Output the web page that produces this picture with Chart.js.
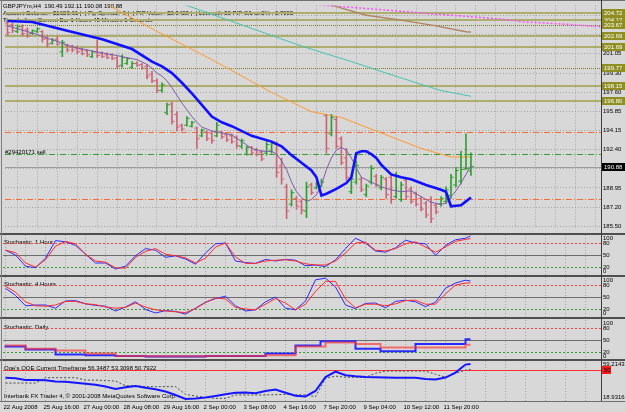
<!DOCTYPE html>
<html>
<head>
<meta charset="utf-8">
<script src="https://cdn.jsdelivr.net/npm/chart.js@4.4.1/dist/chart.umd.min.js"></script>
<style>
  html, body { margin: 0; padding: 0; background: #d8d8d8; }
  #wrap { position: relative; width: 625px; height: 412px; overflow: hidden; background: #d8d8d8; }
  #wrap canvas { position: absolute; left: 0; }
  .sep { position: absolute; left: 0; width: 625px; background: #505050; }
  .vline { position: absolute; width: 1px; background: #3c3c3c; }
</style>
</head>
<body>
<div id="wrap">
  <canvas id="cMain" width="625" height="234" style="top:0"></canvas>
  <canvas id="cSto1" width="625" height="40" style="top:235px"></canvas>
  <canvas id="cSto4" width="625" height="40" style="top:277px"></canvas>
  <canvas id="cStoD" width="625" height="40" style="top:320px"></canvas>
  <canvas id="cQqe" width="625" height="51" style="top:361px"></canvas>
  <div class="sep" style="top:0;height:1px;background:#707070"></div>
  <div class="sep" style="top:233px;height:2px"></div>
  <div class="sep" style="top:275px;height:2px"></div>
  <div class="sep" style="top:317px;height:2px"></div>
  <div class="sep" style="top:359px;height:2px"></div>
  <div class="sep" style="top:401px;height:1px;background:#707070"></div>
  <div class="vline" style="left:601px;top:0;height:401px"></div>
  <div class="vline" style="left:1px;top:0;height:401px;background:#808080"></div>
</div>
<script>
// ---- data (H4 bars, index 0 = first visible bar) ----
const timeLabels = ['22 Aug 2008', '25 Aug 16:00', '27 Aug 00:00', '28 Aug 08:00', '29 Aug 16:00', '2 Sep 00:00',
  '3 Sep 08:00', '4 Sep 16:00', '7 Sep 20:00', '9 Sep 04:00', '10 Sep 12:00', '11 Sep 20:00'];
const timeIdx = [0, 8, 16, 24, 32, 40, 48, 56, 64, 72, 80, 88];

const opens = [203.83,203.66,203.05,203.49,203.22,202.88,203.05,203.05,202.44,202.01,
  202.36,201.22,201.83,201.66,201.57,201.40,201.31,200.79,201.22,201.05,
  200.96,200.96,200.70,200.01,200.18,199.83,200.18,200.09,199.92,199.22,
  198.61,197.74,195.74,196.52,195.57,194.61,194.61,194.52,194.35,193.65,
  194.00,193.91,193.65,194.00,193.74,193.65,193.48,192.70,192.00,192.61,
  192.35,192.18,192.09,192.26,192.87,190.96,189.04,187.48,188.00,187.74,
  186.87,189.22,188.96,189.13,195.48,193.83,195.13,193.39,191.65,188.61,
  189.48,189.74,188.35,189.48,190.00,188.96,189.74,189.91,188.17,187.91,
  189.65,188.87,188.43,188.00,187.56,187.91,187.39,187.48,187.74,188.26,
  189.22,189.56,190.65,190.49];
const highs = [204.01,203.83,203.66,203.66,203.40,203.22,203.40,203.14,202.70,202.44,
  202.62,202.27,201.92,201.83,201.75,201.57,201.40,201.31,202.27,201.22,
  201.14,201.05,200.79,200.96,200.70,200.35,200.35,200.18,200.09,199.48,
  198.79,198.44,196.61,196.70,195.83,194.70,195.39,194.96,194.44,194.26,
  194.09,194.09,194.87,194.09,193.83,193.83,193.65,193.39,192.70,192.70,
  192.52,192.35,193.13,193.13,193.13,191.65,189.30,188.78,188.17,187.91,
  189.48,189.39,189.48,189.74,195.57,195.57,195.39,193.57,192.52,190.09,
  191.39,189.91,189.30,190.96,190.17,190.09,189.91,190.17,190.35,189.48,
  189.91,189.04,188.61,188.17,187.74,188.17,187.56,188.17,189.04,190.17,
  190.78,192.26,193.83,192.11];
const lows = [202.70,202.96,202.96,202.70,202.53,202.79,202.96,202.09,201.66,201.92,
  201.83,200.79,201.22,201.22,201.05,200.96,200.79,200.70,200.70,200.70,
  200.61,200.53,199.74,199.83,200.09,199.74,199.92,199.66,198.79,198.44,
  197.57,197.57,195.57,194.70,194.09,194.09,194.52,194.44,192.52,193.57,
  193.22,192.96,193.57,193.39,193.13,192.96,192.52,192.52,191.91,191.91,
  191.83,191.39,191.91,192.09,189.91,189.30,186.17,187.30,187.04,186.61,
  186.26,188.35,188.87,189.04,192.09,193.65,192.52,191.04,189.65,188.43,
  189.30,188.61,188.17,189.30,189.04,188.78,188.00,187.56,188.00,187.74,
  187.91,187.56,187.30,186.87,186.26,185.82,186.61,187.30,187.56,188.00,
  189.04,189.30,190.61,190.08];
const closes = [202.96,203.14,203.49,202.88,202.70,203.14,203.31,202.36,201.92,202.27,
  201.92,202.09,201.40,201.40,201.22,201.05,200.96,201.22,200.89,200.79,
  200.70,200.61,199.92,200.70,200.61,200.18,200.01,199.74,199.05,198.61,
  197.74,198.26,196.44,194.96,194.44,194.26,195.22,194.87,193.39,194.17,
  193.39,193.22,194.61,193.57,193.30,193.13,192.78,193.22,192.61,192.09,
  192.00,191.57,192.87,192.96,190.35,189.74,186.87,188.52,187.30,186.95,
  189.04,188.52,189.30,189.48,192.52,195.31,192.70,191.22,189.91,189.74,
  190.96,188.78,189.13,190.70,189.22,189.91,188.35,187.91,190.09,189.22,
  188.17,187.74,187.48,187.04,186.52,186.17,186.78,188.00,188.78,189.91,
  190.52,190.61,190.70,190.88];

const blueMaIdx = [0,5,12,19,25,29,31,33,35,37,39,41,43,45,49,53,55,57,59,61,62,63,64,66,68,69,70,71,72,73,74,75,77,79,81,84,87,88,89,91,92,93];
const blueMa = [204.01,203.92,203.14,202.36,201.48,200.35,199.92,199.31,198.44,197.48,196.44,195.39,194.87,194.52,193.65,193.13,192.70,191.91,191.22,190.52,189.91,188.26,188.43,188.87,189.39,189.91,192.09,192.26,192.26,192.00,191.65,191.04,190.17,189.91,189.74,189.22,188.78,188.61,187.30,187.39,187.74,188.09];

const purpleMaIdx = [0,2,4,6,8,10,12,14,16,18,20,22,24,26,28,29,30,31,32,33,34,35,36,37,38,39,41,43,45,47,49,51,53,54,55,56,57,58,59,60,61,62,63,64,65,66,67,68,69,70,71,73,75,77,79,81,83,85,87,88,89,90,91,92,93];
const purpleMa = [203.57,203.31,203.05,202.79,202.44,202.18,201.83,201.57,201.40,201.22,201.05,200.89,200.70,200.53,200.09,199.74,199.31,199.05,198.61,198.00,197.31,196.61,196.00,195.39,194.87,194.44,194.09,193.91,193.74,193.13,192.52,192.26,192.26,192.00,191.39,190.61,189.48,188.61,188.09,187.74,187.91,188.35,189.22,190.61,191.65,192.35,192.61,192.35,191.65,190.78,189.91,189.48,189.04,188.78,188.61,188.69,188.17,187.65,187.48,187.56,188.17,188.69,189.39,190.17,190.96];

const orangeIdx = [18,29,41,53,61,64,67,75,83,89,93];
const orangeMa = [206.01,203.31,200.53,197.57,195.83,195.57,195.31,193.91,192.52,191.74,191.74];
const tealIdx = [33,35,47,59,69,76,82,87,93];
const tealMa = [206.01,205.57,203.66,201.75,200.35,199.31,198.44,197.74,197.22];
const brownIdx = [63,66,72,79,86,92,93];
const brownMa = [205.75,205.31,204.53,204.09,203.57,203.05,203.01];
const magentaIdx = [61,64,72,79,86,92,99,104,111,119];
const magentaMa = [205.60,205.40,205.14,204.88,204.62,204.44,204.18,203.92,203.75,203.49];

const priceTicks = [204.50, 202.75, 201.05, 199.30, 197.60, 195.85, 194.15, 192.40, 190.70, 188.95, 187.20, 185.50];
const levelPrices = [204.72, 204.12, 203.67, 202.69, 201.69, 199.77, 198.15, 196.80];
const orderPrices = { stop: 193.97, entry: 191.99, target: 187.99 };
const bidPrice = 190.88;

const stoIdx = [0,2,4,6,8,10,12,14,16,18,20,22,24,26,28,30,32,34,36,38,40,42,44,46,48,50,52,54,56,58,60,62,64,66,68,70,72,74,76,78,80,82,84,86,88,90,92,93];
const sto1Main = [62,50,22,18,42,86,83,74,52,30,30,15,22,48,66,62,44,48,40,27,55,78,80,35,31,29,39,35,39,37,23,25,21,38,66,92,80,60,57,68,87,80,78,49,74,88,92,98];
const sto1Signal = [62,56,30,20,38,72,84,78,52,35,32,18,17,44,59,66,52,48,43,30,42,70,80,45,29,29,35,37,38,35,28,25,25,35,55,80,82,62,60,66,78,83,70,57,70,84,89,91];
const sto4Main = [72,54,28,30,30,22,40,41,33,29,27,15,25,38,19,10,16,14,7,22,37,46,52,28,15,18,38,50,22,18,40,93,97,75,30,21,34,35,23,39,42,38,26,37,72,85,92,90];
const sto4Signal = [77,62,38,28,27,30,39,39,33,31,25,22,24,35,25,18,15,13,11,21,36,48,45,24,20,18,32,46,35,18,32,64,89,89,45,23,32,32,28,33,41,42,32,32,58,80,85,85];
const dailyIdx = [0,4,10,16,22,28,40,52,58,63,64,70,75,82,87,92,93];
const dailyMain = [36,34,26,14,12,10,9,10,16,36,47,47,28,22,40,40,52];
const dailySignal = [36,36,28,24,16,10,9.5,10,12,34,34,44,40,31,31,31,38];
const stoLevels = [80, 50, 20];

const qqeMain = [42.4,41.8,40,40,39.8,38.5,38.3,37.2,36.3,35.4,33.6,31,32.8,34,32.2,30.7,28.5,25,20.9,21.4,22.4,24,25.8,27.2,27.4,26.8,29,30.5,27.3,24.2,23.5,29,43,48.5,44.8,43.8,43.2,42.9,42.6,42.4,42.4,42.4,41.2,40.6,42.5,47.5,55.6,56.3];
const qqeTrail = [37,37,37,37,42.4,42.4,42.4,42.4,40,40,39.5,39,34.4,34.4,33.4,33.4,33.4,33.4,25.6,24,22.5,21.6,21.6,25,25,25,25,25.3,25.6,25.3,25,23.3,41.8,44,42.8,42.8,42.8,46.8,49.1,49.1,49.1,49.1,49.1,45.8,43,46.8,50,50.8];
const qqeRange = [18.9316, 59.2143];
const qqeLevel = 50;

// ---- drawing ----
const FONT = '"Liberation Sans", Arial, sans-serif';
const UP = '#2f9f2f', DOWN = '#cc6478';
const gridIdx = [];
for (let i = 0; i <= 116; i += 4) gridIdx.push(i);

const pts = (xs, ys) => xs.map((x, k) => ({ x: x, y: ys[k] }));

function xScale(showLabels) {
  return {
    type: 'linear', min: -0.5, max: 119.1, offset: false,
    afterBuildTicks: s => { s.ticks = gridIdx.map(v => ({ value: v })); },
    afterFit: s => { s.height = showLabels ? 11 : 0; },
    grid: { color: '#a4a4a4', lineWidth: 1, drawTicks: false },
    border: { display: false, dash: [1, 2] },
    ticks: {
      display: showLabels, autoSkip: false, maxRotation: 0, minRotation: 0,
      align: 'start', padding: 3, labelOffset: -2, color: '#000', font: { family: FONT, size: 6 },
      callback: v => { const k = timeIdx.indexOf(v); return k < 0 ? '' : timeLabels[k]; }
    }
  };
}

function paneY(min, max) {
  return {
    position: 'right', min: min, max: max,
    afterFit: s => { s.width = 24; },
    grid: { display: false }, border: { display: false }, ticks: { display: false }
  };
}

function overlay(cfg) {
  return {
    id: 'mt',
    beforeDatasetsDraw(chart) {
      const { ctx, chartArea: a } = chart;
      const y = chart.scales.y;
      ctx.save();
      ctx.font = '6px ' + FONT;
      ctx.textBaseline = 'middle';
      (cfg.texts || []).forEach(t => { ctx.fillStyle = '#000'; ctx.fillText(t.text, t.x, t.y); });
      (cfg.lines || []).forEach(l => {
        const w = l.width || 1;
        let py = Math.round(y.getPixelForValue(l.value));
        if (w % 2 === 1) py += 0.5;
        ctx.lineWidth = w; ctx.strokeStyle = l.color; ctx.setLineDash(l.dash || []);
        ctx.beginPath(); ctx.moveTo(a.left, py); ctx.lineTo(a.right, py); ctx.stroke();
      });
      ctx.restore();
    },
    afterDraw(chart) {
      const { ctx, chartArea: a } = chart;
      const y = chart.scales.y;
      ctx.save();
      ctx.font = '6px ' + FONT;
      ctx.textBaseline = 'middle';
      (cfg.side || []).forEach(s => {
        const py = Math.min(Math.max(y.getPixelForValue(s.value), a.top + 3.5), a.bottom - 3.5);
        ctx.fillStyle = '#000'; ctx.fillText(s.text, a.right + 2, py);
      });
      (cfg.boxes || []).forEach(b => {
        const py = Math.round(y.getPixelForValue(b.value));
        ctx.fillStyle = b.bg; ctx.fillRect(a.right + 1, py - 4, b.w || 23, 8);
        ctx.fillStyle = b.fg; ctx.fillText(b.text, a.right + 3, py + 0.5);
      });
      ctx.restore();
    }
  };
}

function baseOptions(padding, yScale, showX) {
  return {
    responsive: false, animation: false, events: [],
    layout: { padding: padding },
    plugins: { legend: { display: false }, tooltip: { enabled: false } },
    scales: { x: xScale(showX), y: yScale }
  };
}

const lineDs = (data, color, width, order, extra) => Object.assign({
  type: 'line', data: data, borderColor: color, borderWidth: width, pointRadius: 0,
  tension: 0, fill: false, order: order
}, extra || {});

// main price pane
const barColors = closes.map((c, i) => c >= opens[i] ? UP : DOWN);
const mainOpts = baseOptions({ left: 3, top: 2, bottom: 1, right: 0 }, {
  position: 'right', min: 185.30, max: 205.40,
  afterBuildTicks: s => { s.ticks = priceTicks.map(v => ({ value: v })); },
  afterFit: s => { s.width = 24; },
  grid: { color: '#a4a4a4', drawTicks: false },
  border: { display: false, dash: [1, 2] },
  ticks: { autoSkip: false, padding: 2, color: '#000', font: { family: FONT, size: 6 }, callback: v => v.toFixed(2) }
}, false);

const levelLines = levelPrices.map(v => {
  const dotted = v === 203.67 || v === 199.77;
  return dotted ? { value: v, color: '#7d7d22', width: 1, dash: [1, 1] } : { value: v, color: '#adad6c', width: 2 };
});

new Chart(document.getElementById('cMain'), {
  type: 'line',
  data: {
    datasets: [
      lineDs(pts(blueMaIdx, blueMa), '#1111ff', 2.6, 0),
      lineDs(pts(purpleMaIdx, purpleMa), '#7d5aa8', 1, 1),
      { type: 'line', showLine: false, order: 2, data: opens.map((v, i) => ({ x: i - 0.3, y: v })),
        pointStyle: 'line', pointRadius: 1.3, pointBorderWidth: 1, pointBorderColor: barColors },
      { type: 'line', showLine: false, order: 2, data: closes.map((v, i) => ({ x: i + 0.3, y: v })),
        pointStyle: 'line', pointRadius: 1.3, pointBorderWidth: 1, pointBorderColor: barColors },
      { type: 'bar', order: 3, data: highs.map((h, i) => ({ x: i, y: [lows[i], h] })),
        backgroundColor: barColors, barThickness: 1, borderWidth: 0 },
      lineDs(pts(orangeIdx, orangeMa), '#ff9a30', 1, 4),
      lineDs(pts(tealIdx, tealMa), '#48c2b2', 1, 4),
      lineDs(pts(brownIdx, brownMa), '#b08462', 1.5, 4),
      lineDs(pts(magentaIdx, magentaMa), '#ff4cff', 1.5, 4, { borderDash: [2, 2] })
    ]
  },
  options: mainOpts,
  plugins: [overlay({
    texts: [
      { text: 'GBPJPYm,H4  190.49 192.11 190.08 190.88', x: 3, y: 6 },
      { text: 'Account Balance:  $1623.61 |~| Pip Spread:  9 |~| PIP Value:  $0.9428 |~| Lots with 50 PIP S/L at 2% : 0.7095', x: 3, y: 13 },
      { text: 'Time Left on Current Bar 1 Hours 43 Minutes 1 Seconds', x: 3, y: 20 },
      { text: '#29420171 sell', x: 5, y: 152 }
    ],
    lines: levelLines.concat([
      { value: orderPrices.stop, color: '#ff6a30', width: 1, dash: [6, 2, 1, 2] },
      { value: orderPrices.entry, color: '#33a033', width: 1, dash: [6, 2, 1, 2] },
      { value: orderPrices.target, color: '#ff6a30', width: 1, dash: [6, 2, 1, 2] },
      { value: bidPrice, color: '#9c9c9c', width: 1 }
    ]),
    boxes: levelPrices.map(v => ({ value: v, text: v.toFixed(2), bg: '#8e8e22', fg: '#ffffff' }))
      .concat([{ value: bidPrice, text: bidPrice.toFixed(2), bg: '#000000', fg: '#ffffff' }])
  })]
});

// stochastic panes
function stochPane(id, title, main, signal, idx, stepped, width) {
  const extra = stepped ? { stepped: 'after' } : {};
  new Chart(document.getElementById(id), {
    type: 'line',
    data: {
      datasets: [
        lineDs(pts(idx, signal), stepped ? 'rgba(255,50,50,0.65)' : '#ff2a2a', width, 0, extra),
        lineDs(pts(idx, main), '#2a2aff', width, 1, extra)
      ]
    },
    options: baseOptions({ left: 3, top: 0, bottom: 0, right: 0 }, paneY(0, 100), false),
    plugins: [overlay({
      texts: [{ text: title, x: 4, y: 7 }],
      lines: [
        { value: stoLevels[0], color: '#ff4040', width: 1, dash: [2, 2] },
        { value: stoLevels[1], color: '#6e6e6e', width: 1 },
        { value: stoLevels[2], color: '#3a9a3a', width: 1, dash: [2, 2] }
      ],
      side: [100, 80, 50, 20, 0].map(v => ({ value: v, text: String(v) }))
    })]
  });
}
stochPane('cSto1', 'Stochastic .1 Hour', sto1Main, sto1Signal, stoIdx, false, 1);
stochPane('cSto4', 'Stochastic .4 Hours', sto4Main, sto4Signal, stoIdx, false, 1);
stochPane('cStoD', 'Stochastic .Daily', dailyMain, dailySignal, dailyIdx, true, 2);

// QQE pane with the time axis
new Chart(document.getElementById('cQqe'), {
  type: 'line',
  data: {
    datasets: [
      lineDs(pts(stoIdx, qqeMain), '#1515ff', 2, 0),
      lineDs(pts(stoIdx, qqeTrail), '#4a4a4a', 1, 1, { borderDash: [2, 2] })
    ]
  },
  options: baseOptions({ left: 3, top: 0, bottom: 0, right: 0 }, paneY(qqeRange[0], qqeRange[1]), true),
  plugins: [overlay({
    texts: [
      { text: "Qqe's QQE Current Timeframe 56.3487 53.3098 50.7922", x: 4, y: 7 },
      { text: 'Interbank FX Trader 4, \u00a9 2001-2008 MetaQuotes Software Corp.', x: 4, y: 35 }
    ],
    lines: [{ value: qqeLevel, color: '#ff3030', width: 1 }],
    side: [{ value: qqeRange[1], text: qqeRange[1].toFixed(4) }, { value: qqeRange[0], text: qqeRange[0].toFixed(4) }],
    boxes: [{ value: qqeLevel, text: String(qqeLevel), bg: '#ff1a1a', fg: '#000000', w: 9 }]
  })]
});
</script>
</body>
</html>
